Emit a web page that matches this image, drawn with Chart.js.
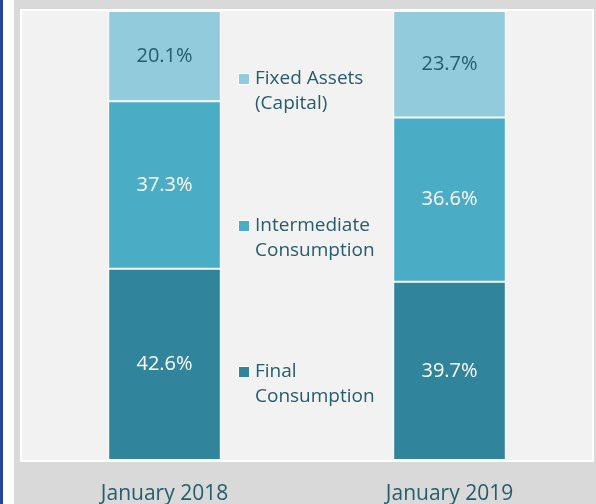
<!DOCTYPE html>
<html>
<head>
<meta charset="utf-8">
<script src="https://cdn.jsdelivr.net/npm/chart.js@4.4.1/dist/chart.umd.min.js"></script>
<style>
  html, body { margin: 0; padding: 0; background: #d9d9d9; }
  #wrap { width: 596px; height: 504px; position: relative; }
</style>
</head>
<body>
<div id="wrap"><canvas id="chart" width="596" height="504"></canvas></div>
<script>
const categories = ['January 2018', 'January 2019'];
const finalConsumption = [42.6, 39.7];
const intermediateConsumption = [37.3, 36.6];
const fixedAssets = [20.1, 23.7];
const seriesNames = [['Final', 'Consumption'], ['Intermediate', 'Consumption'], ['Fixed Assets', '(Capital)']];

const textColor = '#255d6c';
const fontFamily = '"Open Sans", sans-serif';

// frame + plot background
const backdrop = {
    id: 'backdrop',
    beforeDraw(chart) {
        const ctx = chart.ctx;
        const a = chart.chartArea;
        ctx.save();
        ctx.fillStyle = '#d9d9d9';
        ctx.fillRect(0, 0, chart.width, chart.height);
        ctx.fillStyle = '#ffffff';
        ctx.fillRect(0, 0, 14, chart.height);
        ctx.fillStyle = '#2445a3';
        ctx.fillRect(0, 0, 3, chart.height);
        ctx.fillStyle = '#f2f2f2';
        ctx.fillRect(a.left, a.top, a.right - a.left, a.bottom - a.top);
        ctx.strokeStyle = '#ffffff';
        ctx.lineWidth = 2;
        ctx.strokeRect(a.left - 1, a.top - 1, a.right - a.left + 2, a.bottom - a.top + 2);
        ctx.restore();
    }
};

// percent labels in the middle of each segment
const segmentLabels = {
    id: 'segmentLabels',
    afterDatasetsDraw(chart) {
        const ctx = chart.ctx;
        ctx.save();
        ctx.font = '20px ' + fontFamily;
        ctx.textAlign = 'center';
        ctx.textBaseline = 'middle';
        chart.data.datasets.forEach((ds, i) => {
            chart.getDatasetMeta(i).data.forEach((bar, j) => {
                ctx.fillStyle = ds.labelColor;
                ctx.fillText(ds.data[j].toFixed(1) + '%', bar.x, (bar.y + bar.base) / 2);
            });
        });
        ctx.restore();
    }
};

// legend sitting between the two bars
const legendRows = [372, 226, 79];
const sideLegend = {
    id: 'sideLegend',
    afterDraw(chart) {
        const ctx = chart.ctx;
        ctx.save();
        ctx.font = '19px ' + fontFamily;
        ctx.textBaseline = 'middle';
        ctx.textAlign = 'left';
        chart.data.datasets.forEach((ds, i) => {
            const y = legendRows[i];
            ctx.fillStyle = '#ffffff';
            ctx.fillRect(238, y - 6, 12, 12);
            ctx.fillStyle = ds.backgroundColor;
            ctx.fillRect(239, y - 5, 10, 10);
            ctx.fillStyle = textColor;
            seriesNames[i].forEach((line, k) => ctx.fillText(line, 255, y + k * 25));
        });
        ctx.restore();
    }
};

new Chart(document.getElementById('chart').getContext('2d'), {
    type: 'bar',
    data: {
        labels: categories,
        datasets: [
            { label: 'Final Consumption', data: finalConsumption, backgroundColor: '#30849b', labelColor: '#ffffff' },
            { label: 'Intermediate Consumption', data: intermediateConsumption, backgroundColor: '#4aacc5', labelColor: '#ffffff' },
            { label: 'Fixed Assets (Capital)', data: fixedAssets, backgroundColor: '#92cbdc', labelColor: textColor }
        ].map(d => Object.assign(d, {
            borderColor: '#ffffff',
            borderWidth: 1,
            borderSkipped: false,
            barPercentage: 1,
            categoryPercentage: 0.395
        }))
    },
    options: {
        responsive: false,
        animation: false,
        layout: { padding: { left: 22, right: 4, top: 11, bottom: 0 } },
        plugins: {
            legend: { display: false },
            tooltip: { enabled: false }
        },
        scales: {
            x: {
                stacked: true,
                grid: { display: false },
                border: { display: false },
                ticks: { color: textColor, font: { family: fontFamily, size: 21 }, padding: 13 },
                afterFit(scale) { scale.height = 44; }
            },
            y: {
                stacked: true,
                display: false,
                min: 0,
                max: 100
            }
        }
    },
    plugins: [backdrop, segmentLabels, sideLegend]
});
</script>
</body>
</html>
